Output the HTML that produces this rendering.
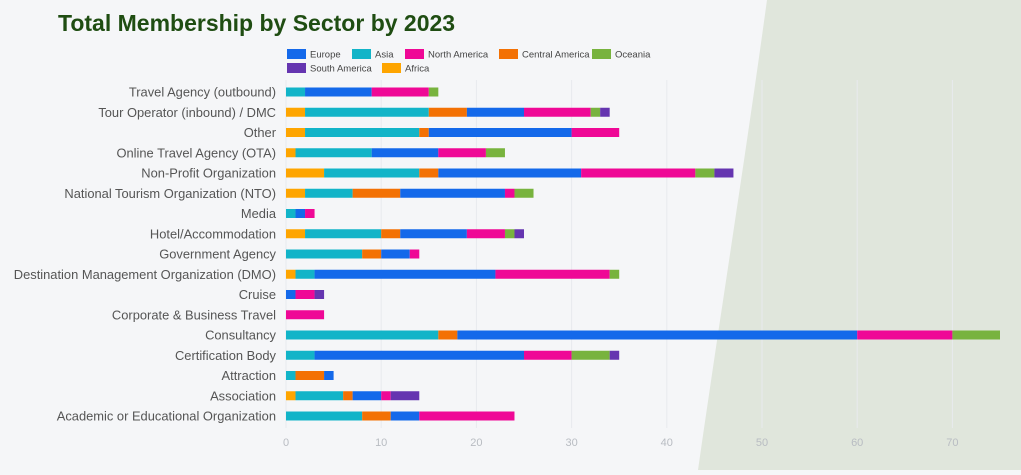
<!DOCTYPE html>
<html><head><meta charset="utf-8">
<style>
html,body{margin:0;padding:0;}
body{width:1021px;height:470px;overflow:hidden;background:#f5f6f8;font-family:"Liberation Sans",sans-serif;}
</style></head>
<body>
<svg id="chart" width="1021" height="470" viewBox="0 0 1021 470" xmlns="http://www.w3.org/2000/svg">
<path d="M767,0 C745,160 718,330 698,470 L1021,470 L1021,0 Z" fill="#e0e6dc"/>
<text x="58" y="31" font-size="23" font-weight="bold" fill="#1f4d12" font-family="Liberation Sans, sans-serif">Total Membership by Sector by 2023</text>
<g id="grid"></g>
<g id="legend"></g>
<g id="bars"></g>
<g id="labels"></g>
<g id="ticks"></g>
</svg>
<script>
const categories = ["Travel Agency (outbound)","Tour Operator (inbound) / DMC","Other","Online Travel Agency (OTA)","Non-Profit Organization","National Tourism Organization (NTO)","Media","Hotel/Accommodation","Government Agency","Destination Management Organization (DMO)","Cruise","Corporate & Business Travel","Consultancy","Certification Body","Attraction","Association","Academic or Educational Organization"];
const seriesNames = ["Africa","Asia","Central America","Europe","North America","Oceania","South America"];
const africa        = [0,2,2,1,4,2,0,2,0,1,0,0,0,0,0,1,0];
const asia          = [2,13,12,8,10,5,1,8,8,2,0,0,16,3,1,5,8];
const centralAm     = [0,4,1,0,2,5,0,2,2,0,0,0,2,0,3,1,3];
const europe        = [7,6,15,7,15,11,1,7,3,19,1,0,42,22,1,3,3];
const northAm       = [6,7,5,5,12,1,1,4,1,12,2,4,10,5,0,1,10];
const oceania       = [1,1,0,2,2,2,0,1,0,1,0,0,5,4,0,0,0];
const southAm       = [0,1,0,0,2,0,0,1,0,0,1,0,0,1,0,3,0];
const tickValues    = [0,10,20,30,40,50,60,70];

const colors = {"Africa":"#fea500","Asia":"#12b4c8","Central America":"#f37104","Europe":"#1469ea","North America":"#ef0896","Oceania":"#78b33e","South America":"#6535b0"};
const seriesData = [africa,asia,centralAm,europe,northAm,oceania,southAm];
const NS="http://www.w3.org/2000/svg";
const x0=286, pxPer=9.52, y0=92, rowH=20.25, barH=9;
const xs=v=>x0+v*pxPer;
const ys=i=>y0+i*rowH;
function mk(tag,attrs,parent){const e=document.createElementNS(NS,tag);for(const k in attrs)e.setAttribute(k,attrs[k]);parent.appendChild(e);return e;}

const grid=document.getElementById('grid'), ticks=document.getElementById('ticks');
tickValues.forEach(t=>{
  const l=mk('line',{x1:xs(t),x2:xs(t),y1:80,y2:428,stroke:'#e8eaee','stroke-width':1},grid);
  
  
  const tx=mk('text',{x:xs(t),y:446,'font-size':11,fill:'#b8bcc2','text-anchor':'middle'},ticks);
  tx.textContent=t;
  
  
});

const bars=document.getElementById('bars'), labels=document.getElementById('labels');
categories.forEach((c,i)=>{
  const lb=mk('text',{x:276,y:ys(i)+4.5,'font-size':12.9,fill:'#555','text-anchor':'end'},labels);
  lb.textContent=c;
  
  
  let acc=0;
  seriesData.forEach((arr,s)=>{
    const v=arr[i]; if(!v) return;
    const r=mk('rect',{x:xs(acc),y:ys(i)-barH/2,width:v*pxPer,height:barH,fill:colors[seriesNames[s]]},bars);
    
    
    acc+=v;
  });
});

const legend=document.getElementById('legend');
const legendItems=[["Europe",287,54],["Asia",352,54],["North America",405,54],["Central America",499,54],["Oceania",592,54],["South America",287,68],["Africa",382,68]];
legendItems.forEach(([n,x,y])=>{
  const g=mk('g',{},legend);
  
  
  mk('rect',{x:x,y:y-5,width:19,height:10,fill:colors[n]},g);
  const t=mk('text',{x:x+23,y:y+3.5,'font-size':9.5,fill:'#444'},g);
  t.textContent=n;
});
</script>
</body></html>
